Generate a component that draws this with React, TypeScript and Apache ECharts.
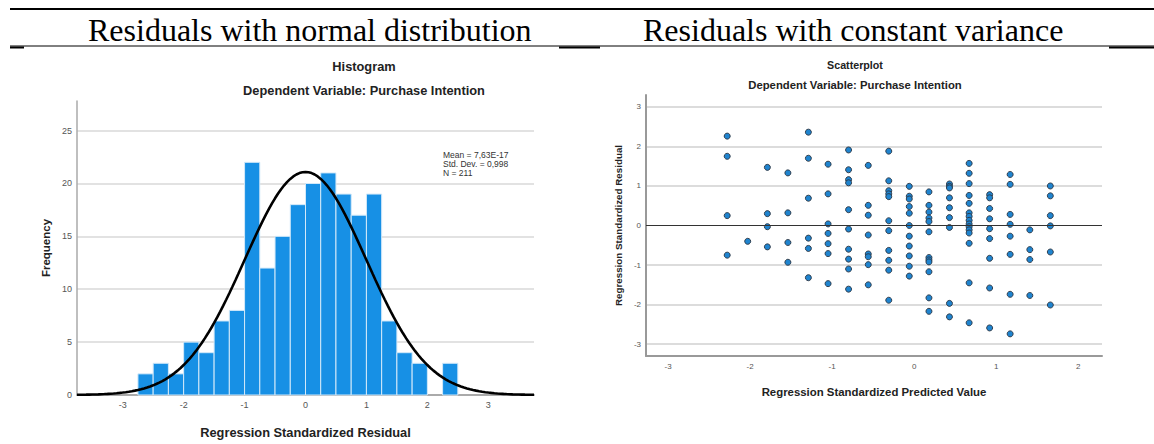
import React, { useEffect, useRef } from 'react';
import * as echarts from 'echarts';

// ---------- header ----------
const headerLeft = 'Residuals with normal distribution';
const headerRight = 'Residuals with constant variance';

// ---------- histogram ----------
const histTitle = 'Histogram';
const depVarTitle = 'Dependent Variable: Purchase Intention';
const binLower = [-2.75, -2.5, -2.25, -2, -1.75, -1.5, -1.25, -1, -0.75, -0.5, -0.25, 0, 0.25, 0.5, 0.75, 1, 1.25, 1.5, 1.75, 2, 2.25];
const binWidth = 0.25;
const frequencies = [2, 3, 2, 5, 4, 7, 8, 22, 12, 15, 18, 20, 21, 19, 17, 19, 7, 4, 3, 0, 3];
const histMean = 7.63e-17;
const histStd = 0.998;
const histN = 211;
const statsLines = ['Mean = 7,63E-17', 'Std. Dev. = 0,998', 'N = 211'];
const histXTicks = [-3, -2, -1, 0, 1, 2, 3];
const histYTicks = [0, 5, 10, 15, 20, 25];

// ---------- scatter ----------
const scatterTitle = 'Scatterplot';
const predictedColumns = [-2.28, -2.03, -1.79, -1.54, -1.29, -1.05, -0.8, -0.56, -0.31, -0.06, 0.18, 0.43, 0.67, 0.92, 1.17, 1.41, 1.66];
const residualsByColumn = [
  [2.26, 1.75, 0.25, -0.75],
  [-0.4],
  [1.47, 0.3, -0.03, -0.54],
  [1.33, 0.32, -0.43, -0.93],
  [2.36, 1.7, 0.69, -0.32, -0.58, -1.32],
  [1.55, 0.8, 0.04, -0.2, -0.46, -0.71, -1.47],
  [1.91, 1.41, 1.16, 1.08, 0.4, -0.09, -0.6, -0.85, -1.1, -1.61],
  [1.52, 0.51, 0.26, -0.24, -0.72, -0.79, -0.99, -1.5],
  [1.88, 1.13, 0.88, 0.8, 0.73, 0.12, -0.13, -0.63, -0.88, -1.13, -1.89],
  [0.99, 0.74, 0.67, 0.48, 0.31, 0.0, -0.27, -0.52, -0.77, -1.03, -1.28],
  [0.85, 0.51, 0.34, 0.19, 0.1, -0.16, -0.81, -0.87, -0.92, -1.17, -1.83, -2.17],
  [1.05, 0.99, 0.95, 0.7, 0.45, 0.2, -0.05, -1.97, -2.31],
  [1.57, 1.32, 1.06, 0.76, 0.56, 0.32, 0.23, 0.13, 0.04, -0.03, -0.11, -0.19, -0.45, -1.45, -2.46],
  [0.78, 0.7, 0.43, 0.17, -0.08, -0.33, -0.83, -1.58, -2.59],
  [1.29, 1.04, 0.28, 0.03, -0.27, -0.73, -1.74, -2.74],
  [-0.11, -0.61, -0.86, -1.77],
  [1.0, 0.75, 0.25, -0.01, -0.67, -2.01],
];
const scatterXTicks = [-3, -2, -1, 0, 1, 2];
const scatterYTicks = [-3, -2, -1, 0, 1, 2, 3];
const scatterGridTicks = [-3, -2, -1, 1, 2, 3];

const SANS = '"Liberation Sans", Arial, sans-serif';
const SERIF = '"Liberation Serif", "Times New Roman", serif';

export default function App() {
  const ref = useRef<HTMLDivElement>(null);

  useEffect(() => {
    document.body.style.margin = '0';
    const chart = echarts.init(ref.current as HTMLDivElement, null, { renderer: 'svg' });

    const histData = binLower.map((l, i) => [l, l + binWidth, frequencies[i]]);
    const curve: number[][] = [];
    for (let k = 0; k <= 150; k++) {
      const x = -3.75 + k * 0.05;
      const z = (x - histMean) / histStd;
      curve.push([x, (histN * binWidth * Math.exp(-z * z / 2)) / (histStd * Math.sqrt(2 * Math.PI))]);
    }
    const scatterData: number[][] = [];
    predictedColumns.forEach((x, i) => residualsByColumn[i].forEach((y) => scatterData.push([x, y])));

    const option: any = {
      animation: false,
      textStyle: { fontFamily: SANS },
      grid: [
        { left: 77, top: 101, width: 457, height: 296 },
        { left: 646, top: 95, width: 456, height: 261 },
      ],
      xAxis: [
        {
          type: 'value', gridIndex: 0, min: -3.75, max: 3.75,
          axisLine: { show: true, onZero: false, lineStyle: { color: '#aaaaaa', width: 2 } },
          axisTick: { show: false, customValues: histXTicks },
          splitLine: { show: false },
          axisLabel: { customValues: histXTicks, fontSize: 9, color: '#555', margin: 5, fontFamily: SANS },
          name: 'Regression Standardized Residual', nameLocation: 'middle', nameGap: 31,
          nameTextStyle: { fontSize: 12.8, fontWeight: 'bold', color: '#222', fontFamily: SANS },
        },
        {
          type: 'value', gridIndex: 1, min: -3.27, max: 2.29,
          axisLine: { show: true, onZero: false, lineStyle: { color: '#999999', width: 2 } },
          axisTick: { show: false, customValues: scatterXTicks },
          splitLine: { show: false },
          axisLabel: { customValues: scatterXTicks, fontSize: 8, color: '#555', margin: 6, fontFamily: SANS },
          name: 'Regression Standardized Predicted Value', nameLocation: 'middle', nameGap: 30,
          nameTextStyle: { fontSize: 11.4, fontWeight: 'bold', color: '#222', fontFamily: SANS },
        },
      ],
      yAxis: [
        {
          type: 'value', gridIndex: 0, min: 0, max: 27.8,
          axisLine: { show: true, onZero: false, lineStyle: { color: '#aaaaaa', width: 1.5 } },
          axisTick: { show: false, customValues: histYTicks },
          splitLine: { show: true, lineStyle: { color: '#d9d9d9', width: 1.5 } },
          axisLabel: { customValues: histYTicks, fontSize: 9, color: '#555', margin: 5, fontFamily: SANS },
          name: 'Frequency', nameLocation: 'middle', nameGap: 25, nameRotate: 90,
          nameTextStyle: { fontSize: 11.5, fontWeight: 'bold', color: '#222', fontFamily: SANS },
        },
        {
          type: 'value', gridIndex: 1, min: -3.3, max: 3.3,
          axisLine: { show: true, onZero: false, lineStyle: { color: '#999999', width: 2 } },
          axisTick: { show: false, customValues: scatterGridTicks },
          splitLine: { show: true, lineStyle: { color: '#dcdcdc', width: 2 } },
          axisLabel: { customValues: scatterYTicks, fontSize: 8, color: '#555', margin: 5, fontFamily: SANS },
          name: 'Regression Standardized Residual', nameLocation: 'middle', nameGap: 23, nameRotate: 90,
          nameTextStyle: { fontSize: 9.8, fontWeight: 'bold', color: '#222', fontFamily: SANS },
        },
      ],
      series: [
        {
          type: 'custom', xAxisIndex: 0, yAxisIndex: 0,
          encode: { x: [0, 1], y: 2 },
          data: histData,
          renderItem: (params: any, api: any) => {
            const c = api.value(2);
            if (!c) return null;
            const p0 = api.coord([api.value(0), c]);
            const p1 = api.coord([api.value(1), 0]);
            return {
              type: 'rect',
              shape: { x: p0[0], y: p0[1], width: p1[0] - p0[0], height: p1[1] - p0[1] },
              style: { fill: '#1790e5', stroke: '#d3e9f9', lineWidth: 1 },
            };
          },
          z: 2,
        },
        {
          type: 'line', xAxisIndex: 0, yAxisIndex: 0, data: curve,
          showSymbol: false, symbol: 'none', smooth: false,
          lineStyle: { color: '#000', width: 2.6 }, z: 3,
        },
        {
          type: 'scatter', xAxisIndex: 1, yAxisIndex: 1, data: scatterData,
          symbolSize: 6,
          itemStyle: { color: '#1f84cf', borderColor: '#2a3340', borderWidth: 0.9, opacity: 1 },
          markLine: {
            silent: true, symbol: 'none', label: { show: false },
            lineStyle: { color: '#333', width: 1, type: 'solid' },
            data: [{ yAxis: 0 }],
          },
          z: 3,
        },
      ],
      graphic: [
        { type: 'line', shape: { x1: 10, y1: 9, x2: 1154, y2: 9 }, style: { stroke: '#000', lineWidth: 2 } },
        { type: 'line', shape: { x1: 10, y1: 46, x2: 1154, y2: 46 }, style: { stroke: '#000', lineWidth: 1 } },
        { type: 'line', shape: { x1: 10, y1: 47.5, x2: 24, y2: 47.5 }, style: { stroke: '#000', lineWidth: 2 } },
        { type: 'line', shape: { x1: 559, y1: 47.5, x2: 600, y2: 47.5 }, style: { stroke: '#000', lineWidth: 2 } },
        { type: 'line', shape: { x1: 1109, y1: 47.5, x2: 1154, y2: 47.5 }, style: { stroke: '#000', lineWidth: 2 } },
        { type: 'text', x: 88, y: 46, style: { text: headerLeft, font: `32px ${SERIF}`, fill: '#000', textVerticalAlign: 'bottom' } },
        { type: 'text', x: 643, y: 46, style: { text: headerRight, font: `32px ${SERIF}`, fill: '#000', textVerticalAlign: 'bottom' } },
        { type: 'text', x: 364, y: 66, style: { text: histTitle, font: `bold 12.8px ${SANS}`, fill: '#222', textAlign: 'center', textVerticalAlign: 'middle' } },
        { type: 'text', x: 364, y: 90, style: { text: depVarTitle, font: `bold 12.8px ${SANS}`, fill: '#222', textAlign: 'center', textVerticalAlign: 'middle' } },
        { type: 'text', x: 443, y: 150, style: { text: statsLines.join('\n'), font: `8.5px ${SANS}`, lineHeight: 9, fill: '#333', textVerticalAlign: 'top' } },
        { type: 'text', x: 855, y: 65, style: { text: scatterTitle, font: `bold 10.7px ${SANS}`, fill: '#222', textAlign: 'center', textVerticalAlign: 'middle' } },
        { type: 'text', x: 855, y: 85, style: { text: depVarTitle, font: `bold 11.3px ${SANS}`, fill: '#222', textAlign: 'center', textVerticalAlign: 'middle' } },
      ],
    };

    chart.setOption(option);
    return () => chart.dispose();
  }, []);

  return <div ref={ref} style={{ width: 1154, height: 444 }} />;
}
